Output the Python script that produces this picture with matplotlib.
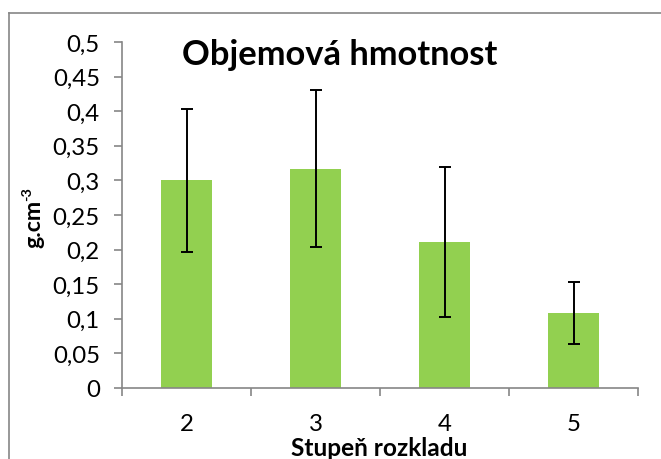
import matplotlib
matplotlib.use("Agg")
import matplotlib.pyplot as plt
from matplotlib.lines import Line2D
from matplotlib.ticker import FuncFormatter

categories = ["2", "3", "4", "5"]
values = [0.300, 0.317, 0.211, 0.108]
errors = [0.103, 0.113, 0.108, 0.045]
yticks = [0, 0.05, 0.1, 0.15, 0.2, 0.25, 0.3, 0.35, 0.4, 0.45, 0.5]

FAM = ['Lato', 'DejaVu Sans']
plt.rcParams['font.family'] = FAM

W, H = 661, 460
fig = plt.figure(figsize=(W/100, H/100), dpi=100)
renderer = fig.canvas.get_renderer()


def fit_size(s, target_px, weight="normal", start=12.0):
    t = fig.text(0, 0, s, fontsize=start, fontweight=weight)
    w = t.get_window_extent(renderer=renderer).width
    t.remove()
    return start * target_px / w


tick_fs = fit_size("0,45", 47)
title_fs = fit_size("Objemová hmotnost", 313, "bold")
xlab_fs = fit_size("Stupeň rozkladu", 176, "bold")
ylab_main = "g.cm"
ylab_fs = fit_size(ylab_main, 48, "bold")

ax = fig.add_axes([122/W, 1-389/H, (638-122)/W, (389-43)/H])

x = list(range(len(categories)))
ax.bar(x, values, width=0.4, color="#92D050", zorder=2)
ax.errorbar(x, values, yerr=errors, fmt="none", ecolor="black", elinewidth=1.4,
            capsize=4.5, capthick=1.4, zorder=3)

ax.set_xlim(-0.5, len(categories)-0.5)
ax.set_ylim(0, 0.5)
ax.set_yticks(yticks)
ax.yaxis.set_major_formatter(FuncFormatter(lambda v, p: ("%g" % v).replace(".", ",")))
ax.set_xticks(x)
ax.set_xticklabels(categories)
ax.set_xticks([i - 0.5 for i in range(len(categories)+1)], minor=True)

for s in ["top", "right"]:
    ax.spines[s].set_visible(False)
for s in ["left", "bottom"]:
    ax.spines[s].set_color("#868686")
    ax.spines[s].set_linewidth(1.2)

ax.tick_params(axis="y", length=6, width=1.2, color="#868686", labelsize=tick_fs, pad=10)
ax.tick_params(axis="x", which="major", length=0, labelsize=tick_fs, pad=18)
ax.tick_params(axis="x", which="minor", length=6, width=1.2, color="#868686")

# y label: main text + superscript
fig.text(34/W, 1-224/H, ylab_main, fontsize=ylab_fs, fontweight="bold",
         rotation=90, ha="center", va="center")
fig.text(27/W, 1-194/H, "-3", fontsize=ylab_fs*0.62, fontweight="bold",
         rotation=90, ha="center", va="center")
fig.text(379/W, 1-449/H, "Stupeň rozkladu", fontsize=xlab_fs, fontweight="bold",
         ha="center", va="center")
fig.text(340/W, 1-55/H, "Objemová hmotnost", fontsize=title_fs, fontweight="bold",
         ha="center", va="center")

# chart border
fig.add_artist(Line2D([8.5/W, 8.5/W], [0, 1-13.5/H], transform=fig.transFigure,
                      color="#868686", lw=1.2))
fig.add_artist(Line2D([8.5/W, 1], [1-13.5/H, 1-13.5/H], transform=fig.transFigure,
                      color="#868686", lw=1.2))

fig.savefig("out.png", dpi=100)
